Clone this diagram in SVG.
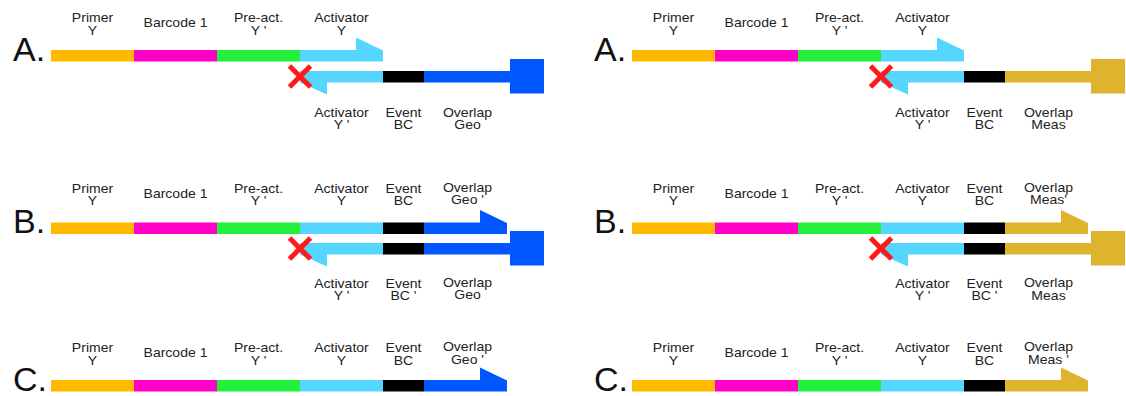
<svg xmlns="http://www.w3.org/2000/svg" width="1126" height="396" viewBox="0 0 1126 396">
<style>
.o{fill:#FFBA00}.m{fill:#FF00C6}.g{fill:#22F03C}.c{fill:#55D6FF}.k{fill:#000}.b{fill:#0057FF}.au{fill:#DEB42E}
.x{stroke:#FF1A1A;stroke-width:5;fill:none}
.t{font-family:"Liberation Sans",Arial,sans-serif;font-size:12px;fill:#222;text-anchor:middle}
.L{font-family:"Liberation Sans",Arial,sans-serif;font-size:34px;fill:#111}
</style>
<rect width="1126" height="396" fill="#fff"/>
<defs>
<g id="base">
<rect class="o" x="51" y="50" width="83" height="11.5"/>
<rect class="m" x="134" y="50" width="83" height="11.5"/>
<rect class="g" x="217" y="50" width="83" height="11.5"/>
</g>
<polygon id="headA" class="c" points="300,50 356,50 356,37.5 383,50.5 383,61.5 300,61.5"/>
<polygon id="revC" class="c" points="300,71 383,71 383,82.5 327,82.5 327,94.5 300,82.5"/>
<path id="xmark" class="x" d="M289.5,66 L310.5,87 M310.5,66 L289.5,87"/>
<g id="lblTop">
<g transform="translate(92.5,0)"><text class="t" transform="scale(1.17,1)"><tspan x="0" y="22.5">Primer</tspan><tspan x="0" y="35">Y</tspan></text></g>
<g transform="translate(175.5,0)"><text class="t" transform="scale(1.17,1)"><tspan x="0" y="27.5">Barcode 1</tspan></text></g>
<g transform="translate(258.5,0)"><text class="t" transform="scale(1.17,1)"><tspan x="0" y="22.5">Pre-act.</tspan><tspan x="0" y="35">Y '</tspan></text></g>
<g transform="translate(341.5,0)"><text class="t" transform="scale(1.17,1)"><tspan x="0" y="22.5">Activator</tspan><tspan x="0" y="35">Y</tspan></text></g>
</g>
<g id="lblEvTop">
<g transform="translate(403.5,0)"><text class="t" transform="scale(1.17,1)"><tspan x="0" y="22.5">Event</tspan><tspan x="0" y="35">BC</tspan></text></g>
</g>
<g id="lblActBot">
<g transform="translate(341.5,0)"><text class="t" transform="scale(1.17,1)"><tspan x="0" y="117.3">Activator</tspan><tspan x="0" y="129.3">Y '</tspan></text></g>
</g>
</defs>

<!-- LEFT COLUMN -->
<g id="left-A">
<text class="L" x="13" y="60.7">A.</text>
<use href="#lblTop"/>
<use href="#lblActBot"/>
<g transform="translate(403.5,0)"><text class="t" transform="scale(1.17,1)"><tspan x="0" y="117.3">Event</tspan><tspan x="0" y="129.3">BC</tspan></text></g>
<g transform="translate(467.5,0)"><text class="t" transform="scale(1.17,1)"><tspan x="0" y="117">Overlap</tspan><tspan x="0" y="129">Geo</tspan></text></g>
<g id="left-A-top"><use href="#base"/><use href="#headA"/></g>
<g id="left-A-bottom">
<use href="#revC"/>
<rect class="k" x="383" y="71" width="41" height="11.5"/>
<path class="b" d="M424,71 H510 V59 H544 V93.5 H510 V82.5 H424 Z"/>
<use href="#xmark"/>
</g>
</g>

<g id="left-B">
<text class="L" x="13" y="233">B.</text>
<g transform="translate(0,170.5)">
<use href="#lblTop"/><use href="#lblEvTop"/>
<g transform="translate(467.5,0)"><text class="t" transform="scale(1.17,1)"><tspan x="0" y="21.5">Overlap</tspan><tspan x="0" y="34">Geo '</tspan></text></g>
<use href="#lblActBot"/>
<g transform="translate(403.5,0)"><text class="t" transform="scale(1.17,1)"><tspan x="0" y="117.3">Event</tspan><tspan x="0" y="129.3">BC '</tspan></text></g>
<g transform="translate(467.5,0)"><text class="t" transform="scale(1.17,1)"><tspan x="0" y="117">Overlap</tspan><tspan x="0" y="129">Geo</tspan></text></g>
</g>
<g id="left-B-top" transform="translate(0,172.5)">
<use href="#base"/>
<rect class="c" x="300" y="50" width="83" height="11.5"/>
<rect class="k" x="383" y="50" width="41" height="11.5"/>
<polygon class="b" points="424,50 480,50 480,37.5 507,50.5 507,61.5 424,61.5"/>
</g>
<g id="left-B-bottom" transform="translate(0,172)">
<use href="#revC"/>
<rect class="k" x="383" y="71" width="41" height="11.5"/>
<path class="b" d="M424,71 H510 V59 H544 V93.5 H510 V82.5 H424 Z"/>
<use href="#xmark"/>
</g>
</g>

<g id="left-C">
<text class="L" x="13" y="390.7">C.</text>
<g transform="translate(0,330)">
<use href="#lblTop"/><use href="#lblEvTop"/>
<g transform="translate(467.5,0)"><text class="t" transform="scale(1.17,1)"><tspan x="0" y="21.5">Overlap</tspan><tspan x="0" y="34">Geo '</tspan></text></g>
<use href="#base"/>
<rect class="c" x="300" y="50" width="83" height="11.5"/>
<rect class="k" x="383" y="50" width="41" height="11.5"/>
<polygon class="b" points="424,50 480,50 480,37.5 507,50.5 507,61.5 424,61.5"/>
</g>
</g>

<!-- RIGHT COLUMN -->
<g transform="translate(581,0)">
<g id="right-A">
<text class="L" x="13" y="60.7">A.</text>
<use href="#lblTop"/>
<use href="#lblActBot"/>
<g transform="translate(403.5,0)"><text class="t" transform="scale(1.17,1)"><tspan x="0" y="117.3">Event</tspan><tspan x="0" y="129.3">BC</tspan></text></g>
<g transform="translate(467.5,0)"><text class="t" transform="scale(1.17,1)"><tspan x="0" y="117">Overlap</tspan><tspan x="0" y="129.5">Meas</tspan></text></g>
<g id="right-A-top"><use href="#base"/><use href="#headA"/></g>
<g id="right-A-bottom">
<use href="#revC"/>
<rect class="k" x="383" y="71" width="41" height="11.5"/>
<path class="au" d="M424,71 H510 V59 H544 V93.5 H510 V82.5 H424 Z"/>
<use href="#xmark"/>
</g>
</g>

<g id="right-B">
<text class="L" x="13" y="233">B.</text>
<g transform="translate(0,170.5)">
<use href="#lblTop"/><use href="#lblEvTop"/>
<g transform="translate(467.5,0)"><text class="t" transform="scale(1.17,1)"><tspan x="0" y="21.5">Overlap</tspan><tspan x="0" y="34">Meas'</tspan></text></g>
<use href="#lblActBot"/>
<g transform="translate(403.5,0)"><text class="t" transform="scale(1.17,1)"><tspan x="0" y="117.3">Event</tspan><tspan x="0" y="129.3">BC '</tspan></text></g>
<g transform="translate(467.5,0)"><text class="t" transform="scale(1.17,1)"><tspan x="0" y="117">Overlap</tspan><tspan x="0" y="129.5">Meas</tspan></text></g>
</g>
<g id="right-B-top" transform="translate(0,172.5)">
<use href="#base"/>
<rect class="c" x="300" y="50" width="83" height="11.5"/>
<rect class="k" x="383" y="50" width="41" height="11.5"/>
<polygon class="au" points="424,50 480,50 480,37.5 507,50.5 507,61.5 424,61.5"/>
</g>
<g id="right-B-bottom" transform="translate(0,172)">
<use href="#revC"/>
<rect class="k" x="383" y="71" width="41" height="11.5"/>
<path class="au" d="M424,71 H510 V59 H544 V93.5 H510 V82.5 H424 Z"/>
<use href="#xmark"/>
</g>
</g>

<g id="right-C">
<text class="L" x="13" y="390.7">C.</text>
<g transform="translate(0,330)">
<use href="#lblTop"/><use href="#lblEvTop"/>
<g transform="translate(467.5,0)"><text class="t" transform="scale(1.17,1)"><tspan x="0" y="21.5">Overlap</tspan><tspan x="0" y="34">Meas '</tspan></text></g>
<use href="#base"/>
<rect class="c" x="300" y="50" width="83" height="11.5"/>
<rect class="k" x="383" y="50" width="41" height="11.5"/>
<polygon class="au" points="424,50 480,50 480,37.5 507,50.5 507,61.5 424,61.5"/>
</g>
</g>
</g>
</svg>
